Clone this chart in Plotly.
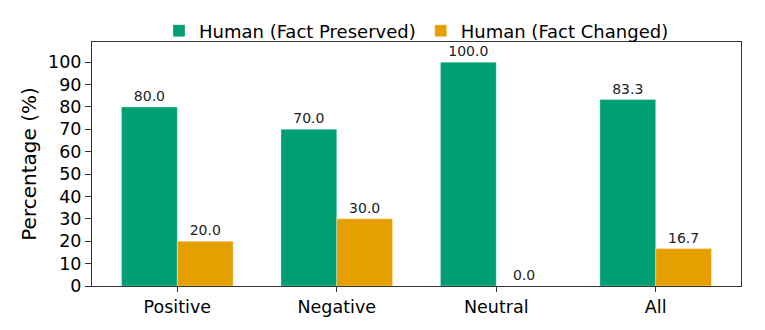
import plotly.graph_objects as go

categories = ["Positive", "Negative", "Neutral", "All"]
preserved = [80.0, 70.0, 100.0, 83.3]
changed = [20.0, 30.0, 0.0, 16.7]
series_names = ["Human (Fact Preserved)", "Human (Fact Changed)"]
colors = ["#009E73", "#E69F00"]

FONT = "DejaVu Sans"

fig = go.Figure()
for name, vals, col in zip(series_names, [preserved, changed], colors):
    fig.add_trace(go.Bar(
        x=categories, y=vals, name=name,
        marker=dict(color=col, line=dict(width=1, color="rgba(255,255,255,0.35)")),
        text=[f"{v:.1f}" for v in vals],
        textposition="outside",
        textfont=dict(family=FONT, size=14, color="#222"),
        cliponaxis=False,
    ))

fig.update_layout(
    width=765, height=330,
    margin=dict(l=92, r=24, t=42, b=44, autoexpand=False),
    paper_bgcolor="white", plot_bgcolor="white",
    barmode="group", bargap=0.3, bargroupgap=0,
    font=dict(family=FONT, size=17, color="black"),
    legend=dict(orientation="h", x=0.5, xanchor="center", y=1.045, yanchor="middle",
                font=dict(size=18), bgcolor="rgba(0,0,0,0)", traceorder="normal"),
    showlegend=True,
)
fig.update_xaxes(range=[-0.535, 3.535], showline=True, linecolor="#333", linewidth=1,
                 mirror=True, ticks="outside", ticklen=5, tickcolor="#333",
                 tickfont=dict(size=17.5), showgrid=False)
fig.update_yaxes(range=[0, 109], dtick=10, showline=True, linecolor="#333", linewidth=1,
                 mirror=True, ticks="outside", ticklen=6, tickcolor="#333",
                 tickfont=dict(size=17.5), showgrid=False, zeroline=False,
                 title=dict(text="Percentage (%)", font=dict(size=20), standoff=6))

fig.write_html("out.html")
